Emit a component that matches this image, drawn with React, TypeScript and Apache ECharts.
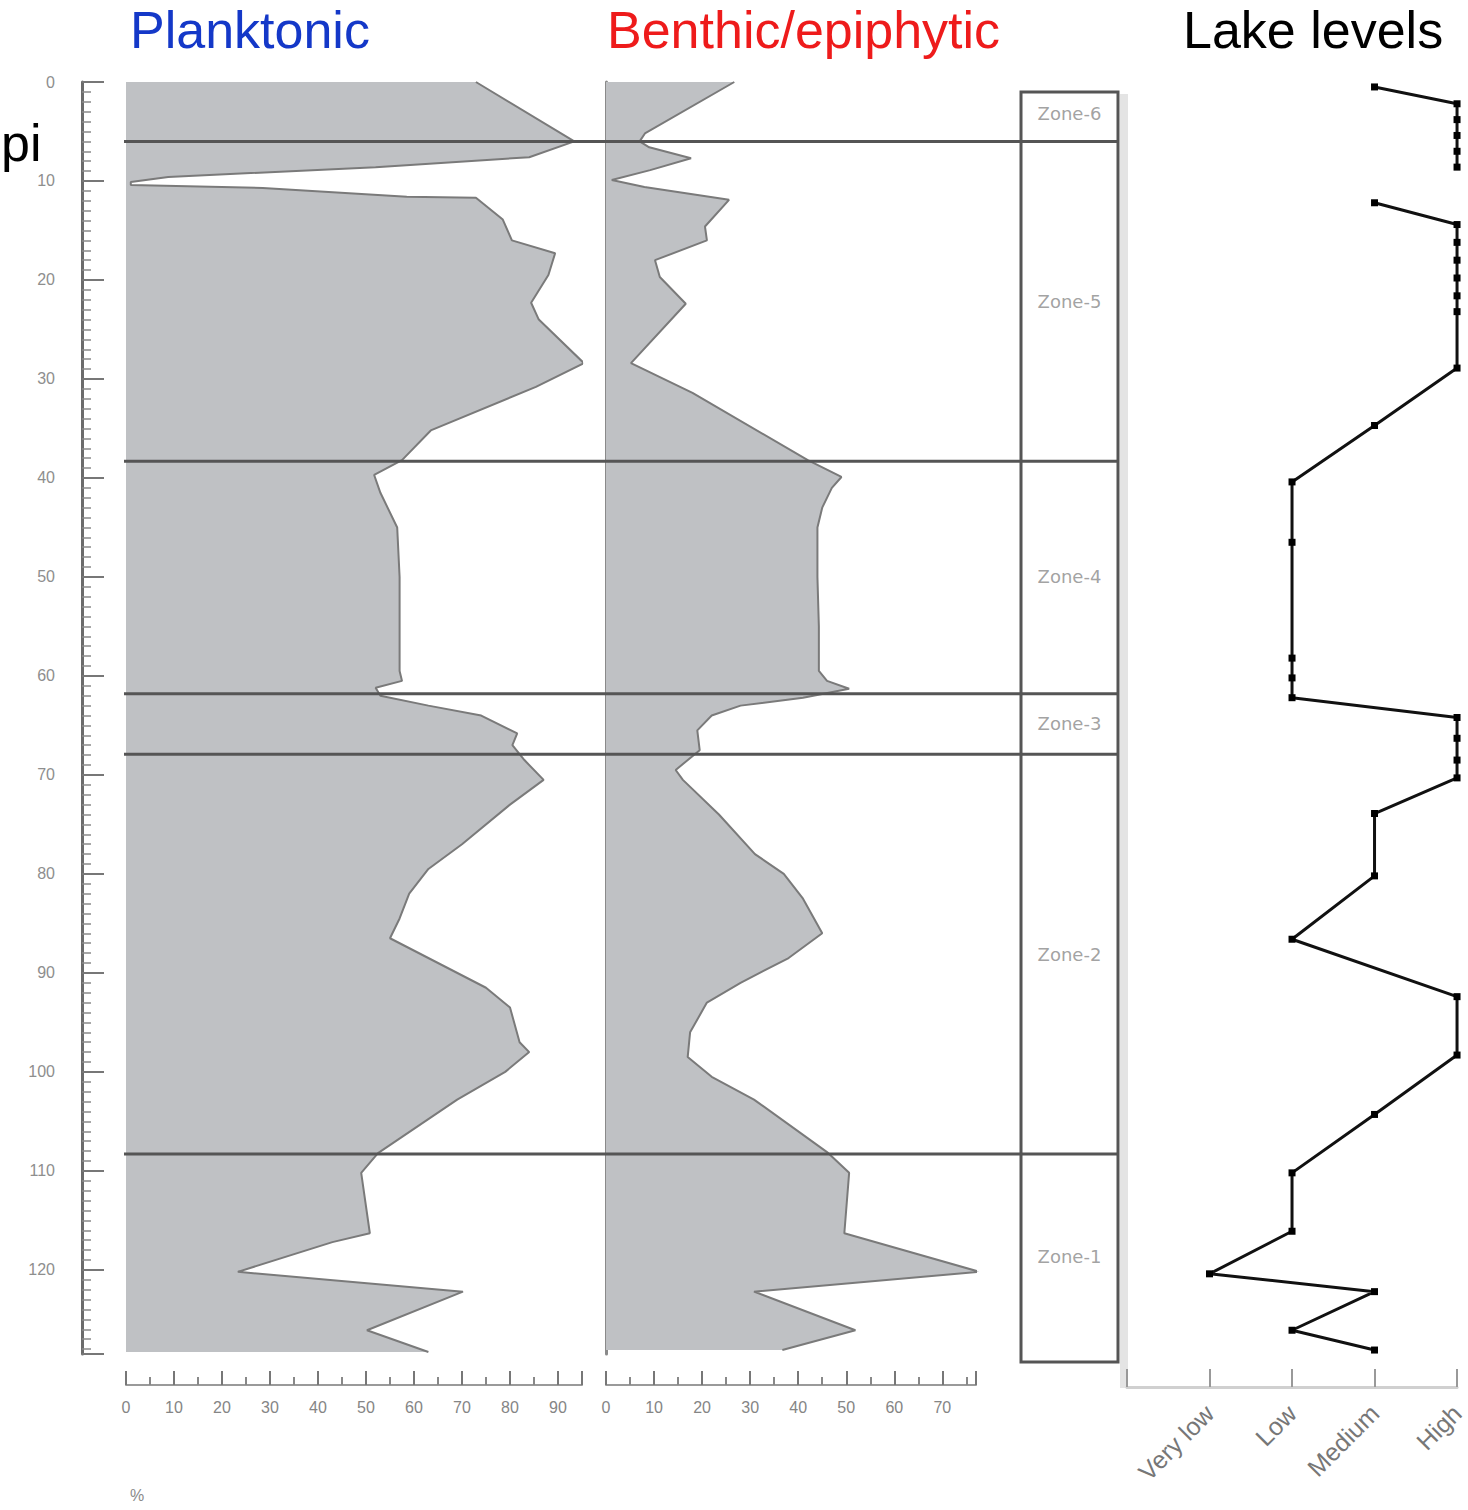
import React, { useEffect, useRef } from "react";
import * as echarts from "echarts";

// ---- Data ----
const planktonDepth = [0, 6.0, 7.6, 8.6, 9.6, 10.1, 10.4, 10.7, 11.6, 11.7, 13.9, 16.0, 17.3, 19.5, 22.3, 24.0, 28.4, 30.8, 35.2, 38.2, 39.7, 41.5, 45, 50, 55, 59.5, 60.5, 61.2, 62, 63, 64, 65.8, 67, 68.5, 70.5, 73, 77, 79.5, 82, 84.5, 86.5, 89, 91.5, 93.5, 97, 98, 100, 102.8, 108.2, 110.2, 116.3, 117.2, 120.2, 122.2, 126.1, 128.3];
const planktonPct = [72.9, 93.4, 84, 52, 8.8, 1, 1, 28.5, 58.5, 72.9, 78.5, 80.4, 89.4, 88, 84.4, 86, 95.4, 85.4, 63.5, 57.5, 51.7, 53, 56.5, 57, 57, 57, 57.5, 52, 53, 63, 74, 81.5, 80.5, 83, 87, 80, 70, 63, 59, 57, 55, 65, 75, 80, 82, 84, 79, 69, 52.5, 49, 50.8, 43, 23.3, 70.2, 50.2, 63];

const benthicDepth = [0, 5.2, 6.0, 6.6, 7.7, 8.9, 9.9, 10.6, 11.9, 14.6, 16.0, 18.0, 19.7, 22.4, 28.4, 31.4, 38.2, 39.9, 41, 43, 45, 50, 55, 59.5, 60.5, 61.3, 62.2, 63, 64, 65.5, 67.5, 69.5, 70.5, 74, 78, 80, 82.5, 86, 88.5, 91, 93, 96, 98.5, 100.5, 102.8, 108.1, 110.2, 116.3, 120.2, 122.2, 126.1, 128.1];
const benthicPct = [26.7, 8.1, 7, 9, 17.7, 9.2, 1.2, 8, 25.6, 20.6, 21, 10.2, 11.2, 16.6, 5.2, 18, 42, 49, 47, 45, 44, 44, 44.3, 44.3, 46, 50.6, 41, 28, 22, 19, 19.5, 14.5, 16, 23.5, 31, 37, 41, 45, 38, 28, 21, 17.5, 17, 22, 30.8, 46, 50.6, 49.6, 77.7, 30.8, 51.9, 36.7];

const lakeDepth = [0.5, 2.2, 3.8, 5.4, 7.0, 8.6, 10.4, 12.2, 14.4, 16.2, 18.0, 19.8, 21.6, 23.2, 28.9, 34.7, 40.4, 46.5, 58.2, 60.2, 62.2, 64.2, 66.3, 68.5, 70.3, 73.9, 80.2, 86.6, 92.4, 98.3, 104.3, 110.2, 116.1, 120.4, 122.2, 126.1, 128.1];
// 1 = Very low, 2 = Low, 3 = Medium, 4 = High, null = gap
const lakeLevel = [3, 4, 4, 4, 4, 4, null, 3, 4, 4, 4, 4, 4, 4, 4, 3, 2, 2, 2, 2, 2, 4, 4, 4, 4, 3, 3, 2, 4, 4, 3, 2, 2, 1, 3, 2, 3];
const levelNames = ["Very low", "Low", "Medium", "High"];

const zoneBounds = [6.0, 38.3, 61.8, 67.9, 108.3];
const zoneNames = ["Zone-6", "Zone-5", "Zone-4", "Zone-3", "Zone-2", "Zone-1"];
const zoneMids = [3.2, 22.2, 50.0, 64.8, 88.1, 118.7];

const DEPTH_MAX = 128.5;
const FILL = "#bfc1c4";
const EDGE = "#7a7a7a";
const FONT = "Liberation Sans";

function areaSeries(idx: number, vals: number[], deps: number[]) {
  return {
    type: "custom",
    xAxisIndex: idx,
    yAxisIndex: idx,
    silent: true,
    z: 1,
    encode: { x: 0, y: 1 },
    data: vals.map((v, i) => [v, deps[i]]),
    renderItem: (params: any, api: any) => {
      if (params.dataIndex !== 0) return null;
      const pts = vals.map((v, i) => api.coord([v, deps[i]]));
      pts.push(api.coord([0, deps[deps.length - 1]]));
      pts.push(api.coord([0, deps[0]]));
      return { type: "polygon", shape: { points: pts }, style: { fill: FILL, stroke: "none" } };
    },
  };
}

function edgeSeries(idx: number, vals: number[], deps: number[]) {
  return {
    type: "line",
    xAxisIndex: idx,
    yAxisIndex: idx,
    silent: true,
    z: 2,
    symbol: "none",
    lineStyle: { color: EDGE, width: 2 },
    data: vals.map((v, i) => [v, deps[i]]),
  };
}

function pctXAxis(gridIndex: number, max: number) {
  return {
    type: "value",
    gridIndex,
    min: 0,
    max,
    interval: 10,
    position: "bottom",
    offset: 31,
    axisLine: { show: true, onZero: false, lineStyle: { color: "#9a9a9a", width: 2 } },
    axisTick: { show: true, inside: true, length: 14, lineStyle: { color: "#777", width: 2 } },
    minorTick: { show: true, splitNumber: 2, length: 8, lineStyle: { color: "#888", width: 2 } },
    axisLabel: { color: "#858585", fontSize: 16, margin: 14, showMaxLabel: false, fontFamily: FONT },
    splitLine: { show: false },
    minorSplitLine: { show: false },
  };
}

function hiddenY(gridIndex: number) {
  return { type: "value", gridIndex, inverse: true, min: 0, max: DEPTH_MAX, show: false, splitLine: { show: false } };
}

export default function App() {
  const ref = useRef<HTMLDivElement>(null);
  useEffect(() => {
    if (!ref.current) return;
    const chart = echarts.init(ref.current, null, { renderer: "svg" });
    const option: any = {
      animation: false,
      backgroundColor: "#ffffff",
      textStyle: { fontFamily: FONT },
      grid: [
        { left: 126, top: 82, width: 456, height: 1272 },
        { left: 606, top: 82, width: 370, height: 1272 },
        { left: 124, top: 82, width: 994, height: 1272 },
        { left: 1021, top: 82, width: 97, height: 1272 },
        { left: 1021, top: 92, width: 97, height: 1270, show: true, borderColor: "#555", borderWidth: 3, backgroundColor: "transparent" },
        { left: 1127, top: 82, width: 331, height: 1272 },
      ],
      xAxis: [
        pctXAxis(0, 95),
        pctXAxis(1, 77),
        { type: "value", gridIndex: 2, min: 0, max: 1, show: false },
        { type: "value", gridIndex: 3, min: 0, max: 1, show: false },
        { type: "value", gridIndex: 4, min: 0, max: 1, show: false },
        {
          type: "value",
          gridIndex: 5,
          min: 0,
          max: 4,
          interval: 1,
          position: "bottom",
          offset: 33,
          axisLine: { show: true, onZero: false, lineStyle: { color: "#d0d0d0", width: 3 } },
          axisTick: { show: true, inside: true, length: 18, lineStyle: { color: "#999", width: 2 } },
          axisLabel: {
            rotate: 45,
            margin: 22,
            color: "#777",
            fontSize: 25,
            fontFamily: FONT,
            formatter: (v: number) => levelNames[v - 1] || "",
          },
          splitLine: { show: false },
        },
      ],
      yAxis: [
        {
          type: "value",
          gridIndex: 0,
          inverse: true,
          min: 0,
          max: DEPTH_MAX,
          interval: 10,
          position: "left",
          offset: 44,
          axisLine: { show: true, onZero: false, lineStyle: { color: "#6b6b6b", width: 3 } },
          axisTick: { show: true, inside: true, length: 22, lineStyle: { color: "#777", width: 2 } },
          minorTick: { show: true, splitNumber: 10, length: 9, lineStyle: { color: "#8a8a8a", width: 1.5 } },
          axisLabel: { color: "#8e8e8e", fontSize: 16, margin: 27, showMaxLabel: false, fontFamily: FONT },
          splitLine: { show: false },
          minorSplitLine: { show: false },
        },
        {
          type: "value",
          gridIndex: 1,
          inverse: true,
          min: 0,
          max: DEPTH_MAX,
          position: "left",
          axisLine: { show: true, onZero: false, lineStyle: { color: "#8a8a8a", width: 3 } },
          axisTick: { show: false },
          axisLabel: { show: false },
          splitLine: { show: false },
        },
        hiddenY(2),
        hiddenY(3),
        { type: "value", gridIndex: 4, min: 0, max: 1, show: false },
        hiddenY(5),
      ],
      graphic: [
        { type: "rect", shape: { x: 1120, y: 94, width: 8, height: 1294 }, style: { fill: "#e4e4e4" }, z: -1 },
        { type: "text", x: 130, y: 30, style: { text: "Planktonic", fill: "#1438c8", font: `52px "${FONT}"`, textVerticalAlign: "middle" } },
        { type: "text", x: 607, y: 30, style: { text: "Benthic/epiphytic", fill: "#ee1b1b", font: `52px "${FONT}"`, textVerticalAlign: "middle" } },
        { type: "text", x: 1183, y: 30, style: { text: "Lake levels", fill: "#000", font: `52px "${FONT}"`, textVerticalAlign: "middle" } },
        { type: "text", x: 1, y: 143, style: { text: "pi", fill: "#000", font: `52px "${FONT}"`, textAlign: "left", textVerticalAlign: "middle" } },
        { type: "text", x: 130, y: 1495, style: { text: "%", fill: "#8a8a8a", font: `16px "${FONT}"`, textVerticalAlign: "middle" } },
      ],
      series: [
        areaSeries(0, planktonPct, planktonDepth),
        edgeSeries(0, planktonPct, planktonDepth),
        areaSeries(1, benthicPct, benthicDepth),
        edgeSeries(1, benthicPct, benthicDepth),
        {
          type: "line",
          xAxisIndex: 2,
          yAxisIndex: 2,
          silent: true,
          z: 5,
          symbol: "none",
          lineStyle: { color: "#555", width: 3 },
          data: zoneBounds.flatMap((b) => [[0, b], [1, b], ["-", "-"]]),
        },
        {
          type: "scatter",
          xAxisIndex: 3,
          yAxisIndex: 3,
          silent: true,
          symbolSize: 1,
          itemStyle: { color: "rgba(0,0,0,0)" },
          label: {
            show: true,
            position: "inside",
            color: "#8a8a8a",
            fontSize: 18,
            fontFamily: "DejaVu Sans",
            formatter: (p: any) => zoneNames[p.dataIndex],
          },
          data: zoneMids.map((m) => [0.5, m]),
        },
        {
          type: "line",
          xAxisIndex: 5,
          yAxisIndex: 5,
          silent: true,
          z: 5,
          symbol: "rect",
          symbolSize: 7,
          itemStyle: { color: "#000" },
          lineStyle: { color: "#111", width: 3 },
          data: lakeDepth.map((d, i) => (lakeLevel[i] == null ? ["-", "-"] : [lakeLevel[i], d])),
        },
      ],
    };
    chart.setOption(option);
    return () => chart.dispose();
  }, []);
  return <div ref={ref} style={{ position: "absolute", left: 0, top: 0, width: 1468, height: 1510 }} />;
}
